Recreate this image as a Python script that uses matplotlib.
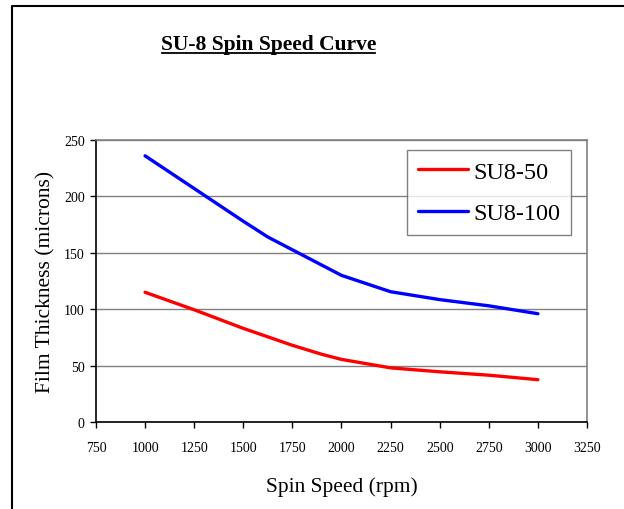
import matplotlib
matplotlib.use('Agg')
import matplotlib.pyplot as plt
from matplotlib.lines import Line2D

plt.rcParams['font.family'] = ['Liberation Serif', 'DejaVu Serif']

# spin speed (rpm) vs film thickness (microns)
speed_50 = [1000, 1250, 1500, 1750, 1900, 2000, 2250, 2500, 2750, 3000]
thick_50 = [115, 99.5, 83, 68, 60, 55.5, 48, 44.5, 41.5, 37.5]
speed_100 = [1000, 1250, 1500, 1625, 2000, 2250, 2500, 2750, 3000]
thick_100 = [236, 207, 178, 164, 130, 115.5, 108.5, 103, 96]

xticks = [750, 1000, 1250, 1500, 1750, 2000, 2250, 2500, 2750, 3000, 3250]
yticks = [0, 50, 100, 150, 200, 250]

fig = plt.figure(figsize=(6.24, 5.10), dpi=100)
ax = fig.add_axes([0.1538, 0.1706, 0.7869, 0.5529])

ax.plot(speed_50, thick_50, color='#ff0000', lw=2.4, solid_capstyle='round', label='SU8-50')
ax.plot(speed_100, thick_100, color='#0000ff', lw=2.4, solid_capstyle='round', label='SU8-100')

ax.set_xlim(750, 3250)
ax.set_ylim(0, 250)
ax.set_xticks(xticks)
ax.set_yticks(yticks)
ax.tick_params(labelsize=10, length=4, width=1, color='black', pad=10)
ax.tick_params(axis='y', pad=4)
ax.yaxis.grid(True, color='#808080', lw=1)
ax.set_axisbelow(True)
for s in ['top', 'right']:
    ax.spines[s].set_color('#808080')
    ax.spines[s].set_linewidth(1.2)
for s in ['left', 'bottom']:
    ax.spines[s].set_color('black')
    ax.spines[s].set_linewidth(1.2)

ax.set_xlabel('Spin Speed (rpm)', fontsize=15.5, labelpad=16)
ax.set_ylabel('Film Thickness (microns)', fontsize=15.5, labelpad=6)

leg = ax.legend(loc='upper right', bbox_to_anchor=(0.9675, 0.965), fontsize=17.5, frameon=True,
                fancybox=False, edgecolor='#606060', handlelength=2.05, handletextpad=0.2,
                borderpad=0.45, labelspacing=0.8, borderaxespad=0)
leg.get_frame().set_linewidth(1)

fig.text(0.430, 0.912, 'SU-8 Spin Speed Curve', ha='center', va='center', fontsize=15.5,
         fontweight='bold')
# underline
fig.add_artist(Line2D([0.259, 0.601], [0.894, 0.894], color='black', lw=1.3, transform=fig.transFigure))

# outer chart frame (left and top edges)
fig.add_artist(Line2D([0.0192, 0.0192, 1.0], [0.0, 0.986, 0.986], color='black', lw=1.5,
                      transform=fig.transFigure))

fig.savefig('out.png', dpi=100)
